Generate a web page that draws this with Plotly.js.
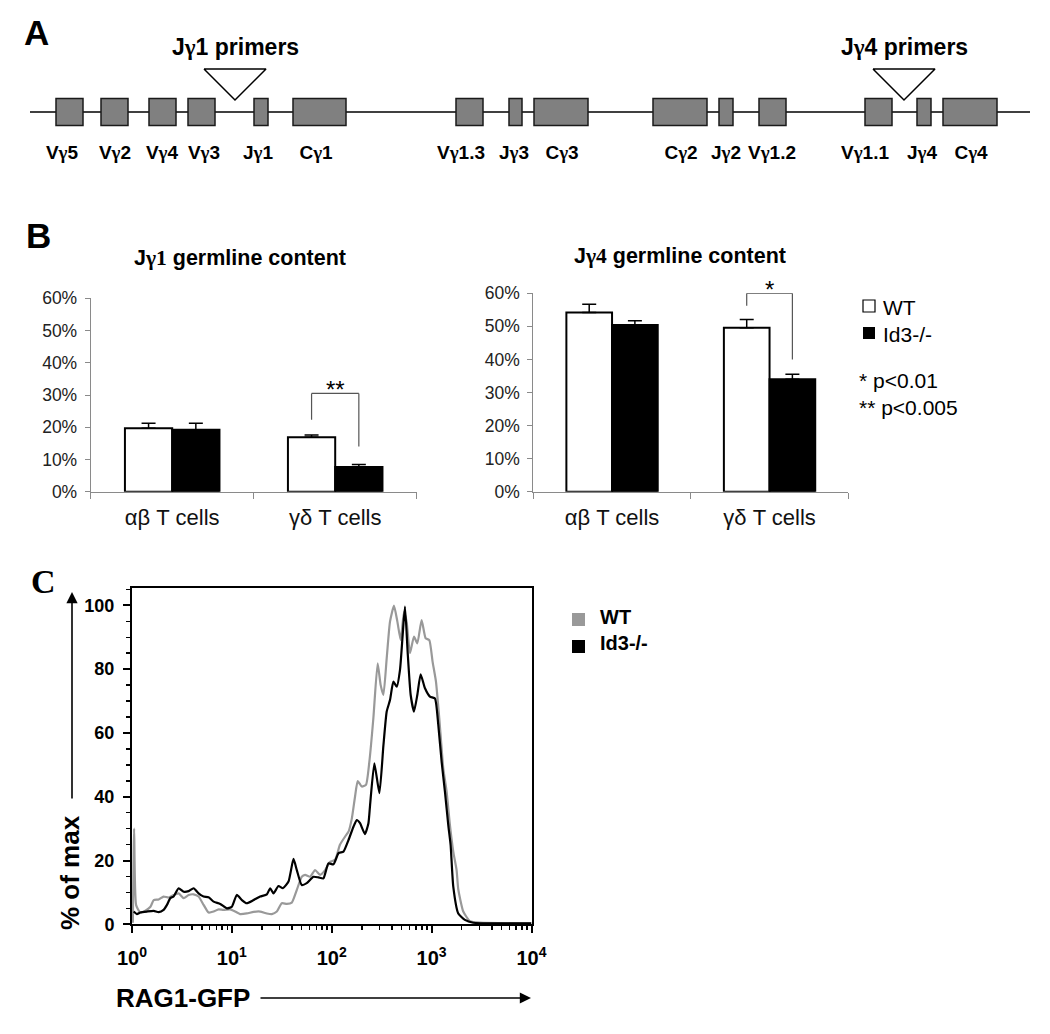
<!DOCTYPE html>
<html><head><meta charset="utf-8">
<script src="https://cdn.plot.ly/plotly-3.0.1.min.js"></script>
<style>html,body{margin:0;padding:0;background:#fff}#chart{width:1050px;height:1034px}</style>
</head><body><div id="chart"></div>
<script>
// ---------- Panel A: TCRγ locus map ----------
const geneNames    = ['Vγ5','Vγ2','Vγ4','Vγ3','Jγ1','Cγ1','Vγ1.3','Jγ3','Cγ3','Cγ2','Jγ2','Vγ1.2','Vγ1.1','Jγ4','Cγ4'];
const geneStart    = [56,101,149,188,254,293,456,509,534,653,719,759,865,917,943];
const geneEnd      = [83,128,176,215,268,346,483,522,588,707,733,786,892,931,997];
const geneLabelPos = [62,115,162,204,258,316,461,514,562,681,726,772,865,922,971];
const locusExtent  = [30,1030];
const primerNames  = ['Jγ1 primers','Jγ4 primers'];
const primerPos    = [235,904];

// ---------- Panel B: germline content ----------
const cellTypes = ['αβ T cells','γδ T cells'];
const jg1WT     = [19.7,16.9];
const jg1WTerr  = [1.5,0.7];
const jg1KO     = [19.2,7.7];
const jg1KOerr  = [2.0,0.7];
const jg4WT     = [54.2,49.6];
const jg4WTerr  = [2.5,2.5];
const jg4KO     = [50.4,34.0];
const jg4KOerr  = [1.3,1.5];
const pctTicks  = [0,10,20,30,40,50,60];
const pctLabels = ['0%','10%','20%','30%','40%','50%','60%'];
// significance brackets: [left leg end, top, right leg end]
const jg1Sig = [22.3,30.5,14.0];
const jg4Sig = [56.2,60.0,40.0];
const jg1SigLabel = '**';
const jg4SigLabel = '*';
const pNotes = ['* p<0.01','** p<0.005'];
const groupNames = ['WT','Id3-/-'];

// ---------- Panel C: RAG1-GFP histogram ----------
const gfpTickVals = [1,10,100,1000,10000];
const gfpTickText = ['10<sup>0</sup>','10<sup>1</sup>','10<sup>2</sup>','10<sup>3</sup>','10<sup>4</sup>'];
const maxTicks = [0,20,40,60,80,100];
const wtX = [1.02,1.05,1.10,1.21,1.36,1.53,1.65,1.85,2.07,2.33,2.61,2.93,3.29,3.69,4.14,4.64,5.21,5.84,6.56,7.36,8.25,9.62,10.8,12.1,14.1,16.5,19.2,22.4,25.1,28.2,31.6,35.5,39.8,44.7,50.1,54.1,60.7,68.1,76.4,85.8,96.2,108,121,136,147,159,171,182,200,220,238,261,288,309,329,355,383,420,454,490,529,562,607,666,719,794,871,948,1023,1105,1193,1308,1413,1525,1647,1778,1848,2074,2416,3045,10000];
const wtY = [0.5,30,6.0,3.7,4.3,5.5,7.6,7.8,8.7,8.4,9.2,9.7,8.2,9.2,9.4,8.7,6.1,3.7,4.0,4.7,4.5,4.7,4.0,3.2,3.4,3.9,4.0,3.4,3.2,4.0,6.6,6.4,6.8,10.8,14.9,15.5,14.9,17.0,15.5,17.0,19.6,20.2,25,27.5,29.0,33.2,40,44.9,43.2,43.7,51.0,64.6,81.8,75.0,71.9,83.4,94.9,99.9,94.9,89.1,98.0,94.9,85.0,90.2,88.1,95.4,89.7,89.1,82.3,76.1,64.6,48.9,41.6,31.1,22.8,17,11,4.0,1.0,0.5,0.3];
const koX = [1.04,1.12,1.21,1.41,1.65,1.85,2.07,2.24,2.42,2.61,2.93,3.29,3.69,4.14,4.64,5.21,5.84,6.56,7.64,8.91,10.0,11.2,12.6,14.1,16.5,19.2,22.4,24.2,26.1,29.3,32.4,36.9,41.4,44.7,50.1,56.2,65.6,73.6,82.5,92.6,104,117,131,147,165,178,192,215,233,242,267,300,329,355,383,414,447,482,513,541,575,617,666,719,776,858,962,1080,1166,1259,1359,1468,1549,1647,1848,2154,2610,4825,10000];
const koY = [4.0,3.2,3.7,4.0,4.2,3.8,4.5,6.1,8.2,8.7,11.3,10.2,10.4,11.3,9.7,8.7,8.5,7.1,6.4,5.0,5.5,9.2,7.6,6.6,7.6,8.7,9.4,11.3,9.7,12.0,11.3,13.4,20.5,17.0,12.3,12.9,14.9,14.7,14.4,19.1,18.8,22.3,22.8,26.4,30.6,32.7,31.7,28.3,31.7,37.4,50.5,41.1,56,66.7,70.3,76.1,74.5,79.7,90.7,99.6,85.5,71.9,66.7,71.9,78.4,74.0,71.4,70.8,62.5,51.0,41.6,31.1,24.9,11.8,3.4,1.4,0.5,0.3,0.3];

// ---------- helpers ----------
const W = 1050, H = 1034;
const px = v => v / W;
const py = v => 1 - v / H;
const SANS = 'Liberation Sans, Arial, Helvetica, sans-serif';
const SERIF = 'Liberation Serif, Times New Roman, serif';
const gam = s => s.replace(/γ/g, '<span style="font-family:Liberation Serif">γ</span>');

const ROW_Y = 112, LABEL_Y = 154, TRI_TOP = 69, TRI_TIP = 100, TRI_HALF = 31;

const traces = [];
// gene boxes
traces.push({
  type:'bar', orientation:'h', xaxis:'x', yaxis:'y',
  base: geneStart, x: geneEnd.map((e,i)=>e-geneStart[i]), y: geneNames.map(()=>ROW_Y),
  width: 27, marker:{color:'#808080', line:{color:'#1a1a1a', width:1.5}},
  showlegend:false, hoverinfo:'skip'
});
// gene labels
traces.push({
  type:'scatter', mode:'text', xaxis:'x', yaxis:'y',
  x: geneLabelPos, y: geneNames.map(()=>LABEL_Y), text: geneNames.map(gam),
  textfont:{family:SANS, size:19, weight:'bold', color:'#000'},
  showlegend:false, hoverinfo:'skip', cliponaxis:false
});
// primer triangles
const triX = [], triY = [];
primerPos.forEach(c => { triX.push(c-TRI_HALF, c+TRI_HALF, c, c-TRI_HALF, null); triY.push(TRI_TOP, TRI_TOP, TRI_TIP, TRI_TOP, null); });
traces.push({
  type:'scatter', mode:'lines', xaxis:'x', yaxis:'y', x: triX, y: triY,
  fill:'toself', fillcolor:'#fff', line:{color:'#000', width:1.5},
  showlegend:false, hoverinfo:'skip'
});

// B bars
function barPair(wt, wtErr, ko, koErr, xa, ya) {
  const zeros = wt.map(()=>0);
  return [
    {type:'bar', name:groupNames[0], x:cellTypes, y:wt, xaxis:xa, yaxis:ya,
     marker:{color:'#fff', line:{color:'#000', width:2}},
     error_y:{type:'data', symmetric:false, array:wtErr, arrayminus:zeros, color:'#000', thickness:1.5, width:7},
     showlegend:false, hoverinfo:'skip'},
    {type:'bar', name:groupNames[1], x:cellTypes, y:ko, xaxis:xa, yaxis:ya,
     marker:{color:'#000', line:{color:'#000', width:2}},
     error_y:{type:'data', symmetric:false, array:koErr, arrayminus:zeros, color:'#000', thickness:1.5, width:7},
     showlegend:false, hoverinfo:'skip'}
  ];
}
traces.push(...barPair(jg1WT, jg1WTerr, jg1KO, jg1KOerr, 'x2', 'y2'));
traces.push(...barPair(jg4WT, jg4WTerr, jg4KO, jg4KOerr, 'x3', 'y3'));

// C histograms
traces.push({type:'scatter', mode:'lines', name:groupNames[0], x:wtX, y:wtY, xaxis:'x4', yaxis:'y4',
  line:{color:'#999999', width:2.2, shape:'spline', smoothing:0.5}, showlegend:false, hoverinfo:'skip'});
traces.push({type:'scatter', mode:'lines', name:groupNames[1], x:koX, y:koY, xaxis:'x4', yaxis:'y4',
  line:{color:'#000000', width:2.2, shape:'spline', smoothing:0.5}, showlegend:false, hoverinfo:'skip'});

// ---------- axes ----------
const hidden = {visible:false, showgrid:false, zeroline:false, fixedrange:true};
const bY = (anchor, d) => ({
  anchor, domain:d, range:[0,60], tickvals:pctTicks, ticktext:pctLabels,
  showline:true, linecolor:'#8a8a8a', linewidth:1, ticks:'outside', ticklen:5, tickcolor:'#8a8a8a',
  tickfont:{family:SANS, size:17.5, color:'#222'}, showgrid:false, zeroline:false, ticklabelstandoff:4
});
const bX = (anchor, d) => ({
  anchor, domain:d, type:'category', showline:true, linecolor:'#8a8a8a', linewidth:1,
  ticks:'outside', tickson:'boundaries', ticklen:6, tickcolor:'#8a8a8a',
  tickfont:{family:SANS, size:22, color:'#111'}, showgrid:false, zeroline:false, ticklabelstandoff:6
});

const layout = {
  width:W, height:H, margin:{l:0,r:0,t:0,b:0}, paper_bgcolor:'#fff', plot_bgcolor:'rgba(0,0,0,0)',
  font:{family:SANS, color:'#000', size:14}, showlegend:false,
  barmode:'group', bargap:0.42, bargroupgap:0,
  xaxis: Object.assign({}, hidden, {domain:[0,1], range:[0,W], anchor:'y'}),
  yaxis: Object.assign({}, hidden, {domain:[py(180),1], range:[180,0], anchor:'x'}),
  xaxis2: bX('y2', [px(90.7), px(416.7)]),
  yaxis2: bY('x2', [py(491.7), py(298.3)]),
  xaxis3: bX('y3', [px(533.3), px(848.3)]),
  yaxis3: bY('x3', [py(491.7), py(293.3)]),
  xaxis4: {
    anchor:'y4', domain:[px(132), px(531.5)], type:'log', range:[0,4],
    tickvals:gfpTickVals, ticktext:gfpTickText,
    showline:true, mirror:true, linecolor:'#000', linewidth:2,
    ticks:'outside', ticklen:7, tickwidth:2, tickcolor:'#000',
    minor:{ticks:'outside', ticklen:4, tickwidth:1.5, tickcolor:'#000', dtick:'D1'},
    tickfont:{family:SANS, size:20, weight:'bold'}, showgrid:false, zeroline:false, ticklabelstandoff:8
  },
  yaxis4: {
    anchor:'x4', domain:[py(924.3), py(587.5)], range:[0,105.6], tickvals:maxTicks,
    showline:true, mirror:true, linecolor:'#000', linewidth:2,
    ticks:'outside', ticklen:7, tickwidth:2, tickcolor:'#000',
    minor:{ticks:'outside', ticklen:4, tickwidth:1.5, tickcolor:'#000', dtick:5},
    tickfont:{family:SANS, size:18, weight:'bold'}, showgrid:false, zeroline:false, ticklabelstandoff:5
  },
  shapes:[], annotations:[]
};

// locus line under the boxes
layout.shapes.push({type:'line', layer:'below', xref:'x', yref:'y', x0:locusExtent[0], x1:locusExtent[1], y0:ROW_Y, y1:ROW_Y, line:{color:'#000', width:1.5}});

// significance brackets
function bracket(sig, xa, ya) {
  const a = 1 - 0.145, b = 1 + 0.145, ln = {color:'#555', width:1.2};
  return [
    {type:'line', xref:xa, yref:ya, x0:a, x1:a, y0:sig[0], y1:sig[1], line:ln},
    {type:'line', xref:xa, yref:ya, x0:a, x1:b, y0:sig[1], y1:sig[1], line:ln},
    {type:'line', xref:xa, yref:ya, x0:b, x1:b, y0:sig[1], y1:sig[2], line:ln}
  ];
}
layout.shapes.push(...bracket(jg1Sig, 'x2', 'y2'), ...bracket(jg4Sig, 'x3', 'y3'));
layout.annotations.push(
  {xref:'x2', yref:'y2', x:1, y:jg1Sig[1], xanchor:'center', yanchor:'bottom', yshift:-12, text:jg1SigLabel, showarrow:false, font:{size:24}},
  {xref:'x3', yref:'y3', x:1, y:jg4Sig[1], xanchor:'center', yanchor:'bottom', yshift:-12, text:jg4SigLabel, showarrow:false, font:{size:24}}
);

// Panel B & C legends + notes
const rect = (x0,y0,x1,y1,fill,line) => ({type:'rect', xref:'paper', yref:'paper', x0:px(x0), x1:px(x1), y0:py(y1), y1:py(y0), fillcolor:fill, line:line});
layout.shapes.push(
  rect(863,300,875,312,'#fff',{color:'#000', width:1.2}),
  rect(863,327,875,339,'#000',{width:0}),
  rect(572,613,585,626,'#999',{width:0}),
  rect(572,640,585,653,'#000',{width:0})
);
const txt = (x,y,text,font,extra) => Object.assign({xref:'paper', yref:'paper', x:px(x), y:py(y), text, showarrow:false, font, xanchor:'center', yanchor:'middle'}, extra||{});
layout.annotations.push(
  txt(881,307,groupNames[0],{size:21},{xanchor:'left'}),
  txt(881,334,groupNames[1],{size:21},{xanchor:'left'}),
  txt(857,380,pNotes[0],{size:21},{xanchor:'left'}),
  txt(857,408,pNotes[1],{size:21},{xanchor:'left'}),
  txt(598,617,groupNames[0],{size:20, weight:'bold'},{xanchor:'left'}),
  txt(598,643,groupNames[1],{size:20, weight:'bold'},{xanchor:'left'})
);

// titles
layout.annotations.push(
  txt(240,258,'J'+'<span style="font-family:Liberation Serif">γ1</span> germline content',{size:21.5, weight:'bold'}),
  txt(680,256,'J'+'<span style="font-family:Liberation Serif">γ4</span> germline content',{size:21.5, weight:'bold'})
);
primerNames.forEach((p,i) => layout.annotations.push({xref:'x', yref:'y', x:primerPos[i], y:47, xanchor:'center', yanchor:'middle', text:gam(p), showarrow:false, font:{size:23, weight:'bold'}}));

// panel letters
layout.annotations.push(
  txt(36.5,32,'A',{size:35, weight:'bold'}),
  txt(38.5,235,'B',{size:35, weight:'bold'}),
  txt(43,581,'C',{size:34, weight:'bold', family:SERIF})
);

// C axis labels + arrows
layout.annotations.push(
  txt(70,873,'% of max',{size:26, weight:'bold'},{textangle:-90}),
  txt(114,998,'RAG1-GFP',{size:26, weight:'bold'},{xanchor:'left'}),
  {xref:'paper', yref:'paper', x:px(72), y:py(592), ax:0, ay:208, text:'', showarrow:true, arrowhead:2, arrowsize:1.4, arrowwidth:1.6, arrowcolor:'#000', standoff:0, startstandoff:0},
  {xref:'paper', yref:'paper', x:px(531), y:py(998), ax:-272, ay:0, text:'', showarrow:true, arrowhead:2, arrowsize:1.4, arrowwidth:1.6, arrowcolor:'#000', standoff:0, startstandoff:0}
);

Plotly.newPlot('chart', traces, layout, {staticPlot:true, displayModeBar:false});
</script>
</body></html>
